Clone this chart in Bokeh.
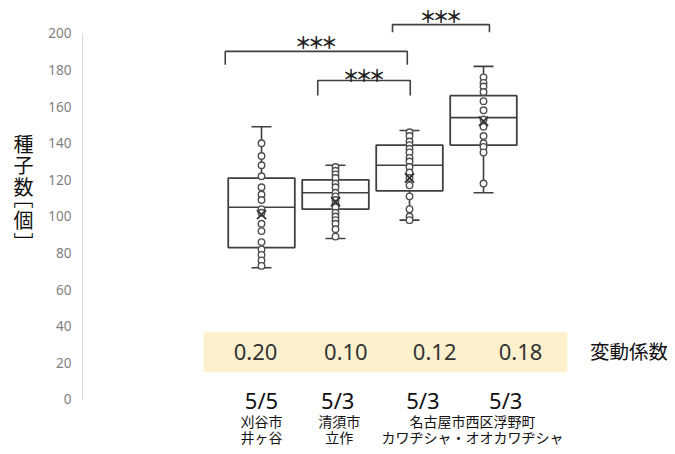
from bokeh.plotting import figure
from bokeh.layouts import row
from bokeh.models import Range1d, FixedTicker, ColumnDataSource
from bokeh.core.properties import value
from bokeh.embed import file_html
from bokeh.resources import INLINE

# ---------------- data ----------------
dates = ["5/5", "5/3", "5/3", "5/3"]
cv = [0.20, 0.10, 0.12, 0.18]
cv_label = "変動係数"
y_title = "種子数[個]"
loc_line1 = ["刈谷市", "清須市", "名古屋市西区浮野町"]
loc_line2 = ["井ヶ谷", "立作", "カワヂシャ・オオカワヂシャ"]
y_ticks = [0, 20, 40, 60, 80, 100, 120, 140, 160, 180, 200]

group = [1, 2, 3, 4]
w_low = [72, 88, 98, 113]
q1 = [83, 104, 114, 139]
median = [105, 113, 128, 154]
q3 = [121, 120, 139, 166]
w_high = [149, 128, 147, 182]
mean = [101, 108, 121, 152]

pts1 = [140, 133, 128, 122, 116, 112, 109, 104, 102, 96, 92, 86, 82, 79, 76, 73]
pts2 = [127, 125, 123, 121, 118, 116, 113, 111, 109, 107, 105, 102, 100, 98, 96, 93, 89]
pts3 = [146, 144, 141, 139, 137, 135, 132, 130, 127, 124, 121, 117, 111, 104, 100, 98]
pts4 = [176, 173, 171, 168, 163, 158, 153, 149, 144, 140, 138, 135, 118]
points = [pts1, pts2, pts3, pts4]

signif = "＊"        # drawn three times per comparison ("***")
n_stars = 3
# ---------------- layout ----------------
H = 446
TW = 44          # width of the narrow title panel
MW = 623         # width of the main chart
BOX_W = 0.9
CAP_W = 0.27
STAR_PITCH = 0.176
INK = "#404040"
JP = "Noto Sans CJK JP"
NUM = "Noto Sans"

y_rng = Range1d(-25.68, 218.0)

# significance brackets: (x_left, x_right, line_y, drop_y, star_center_y)
brackets = [
    (0.51, 2.97, 190.2, 182.9, 195.6),
    (1.76, 3.01, 174.3, 166.1, 177.6),
    (2.77, 4.08, 204.8, 200.7, 209.6),
]
cv_x = [0.92, 2.14, 3.34, 4.50]
date_x = [1.0, 2.03, 3.18, 4.30]
loc_x = [1.0, 2.05, 3.85]

# ---------- title panel (stacked vertical text) ----------
t = figure(width=TW, height=H, output_backend="svg", toolbar_location=None,
           x_range=Range1d(0, TW), y_range=y_rng,
           x_axis_location=None, y_axis_location=None,
           min_border_left=0, min_border_right=0, min_border_top=0,
           min_border_bottom=0)
t.grid.visible = False
t.outline_line_color = None
vert_forms = {"[": "\uFE47", "]": "\uFE48"}
title_chars = [vert_forms.get(c, c) for c in y_title]
title_y = [139.9, 128.4, 116.4, 110.4, 98.6, 85.8]
t.text(x=[23] * len(title_chars), y=title_y, text=title_chars,
       text_font=value(JP), text_font_size="20px", text_color="#111111",
       text_align="center", text_baseline="middle")

# ---------- main chart ----------
p = figure(width=MW, height=H, output_backend="svg", toolbar_location=None,
           x_range=Range1d(-1.419, 6.486), y_range=y_rng,
           x_axis_location=None, min_border_left=38, min_border_right=0,
           min_border_top=0, min_border_bottom=0)
p.grid.visible = False
p.outline_line_color = None

ax = p.yaxis[0]
ax.ticker = FixedTicker(ticks=y_ticks)
ax.bounds = (0, 200)
ax.axis_line_color = "#d9d9d9"
ax.axis_line_width = 1
ax.major_tick_line_color = None
ax.minor_tick_line_color = None
ax.major_tick_out = 0
ax.major_tick_in = 0
ax.major_label_standoff = 11
ax.major_label_text_font = NUM
ax.major_label_text_font_size = "13.5px"
ax.major_label_text_color = "#7f7f7f"

# CV band
p.quad(left=0.216, right=5.131, bottom=14.9, top=36.8, fill_color="#fdf1cd",
       line_color=None)
p.text(x=cv_x, y=[26.2] * 4, text=[f"{v:.2f}" for v in cv],
       text_font=value(NUM), text_font_size="22px", text_color="#333333",
       text_align="center", text_baseline="middle")
p.text(x=[5.44], y=[26.6], text=[cv_label], text_font=value(JP),
       text_font_size="19.5px", text_color="#111111", text_align="left",
       text_baseline="middle")

# boxes
src = ColumnDataSource(dict(x=group, lo=w_low, q1=q1, med=median, q3=q3,
                            hi=w_high, mean=mean,
                            xl=[g - BOX_W / 2 for g in group],
                            xr=[g + BOX_W / 2 for g in group],
                            cl=[g - CAP_W / 2 for g in group],
                            cr=[g + CAP_W / 2 for g in group]))
p.segment(x0="x", y0="lo", x1="x", y1="q1", source=src, line_color=INK, line_width=1.6)
p.segment(x0="x", y0="q3", x1="x", y1="hi", source=src, line_color=INK, line_width=1.6)
p.segment(x0="cl", y0="lo", x1="cr", y1="lo", source=src, line_color=INK, line_width=1.6)
p.segment(x0="cl", y0="hi", x1="cr", y1="hi", source=src, line_color=INK, line_width=1.6)
p.quad(left="xl", right="xr", bottom="q1", top="q3", source=src,
       fill_color="white", line_color=INK, line_width=1.8)
p.segment(x0="xl", y0="med", x1="xr", y1="med", source=src, line_color=INK, line_width=1.6)

for g, pts in zip(group, points):
    p.scatter(x=[g] * len(pts), y=pts, marker="circle", size=6.5,
              fill_color="white", line_color="#505050", line_width=1.4)

p.scatter(x="x", y="mean", source=src, marker="x", size=13, line_color="#333333",
          line_width=1.8)

# brackets
for (xl, xr, ly, dy, ty) in brackets:
    p.line(x=[xl, xl, xr, xr], y=[dy, ly, ly, dy], line_color=INK, line_width=1.6)
    xc = (xl + xr) / 2
    sx = [xc + (k - (n_stars - 1) / 2) * STAR_PITCH for k in range(n_stars)]
    p.text(x=sx, y=[ty] * n_stars, text=[signif] * n_stars, text_font=value(JP),
           text_font_size="17px", text_font_style="bold", text_color="#222222",
           text_align="center", text_baseline="middle")

# dates
p.text(x=date_x, y=[-0.5] * 4, text=dates, text_font=value(NUM),
       text_font_size="22px", text_color="#111111", text_align="center",
       text_baseline="middle")
# locations
p.text(x=loc_x, y=[-11.6] * 3, text=loc_line1, text_font=value(JP),
       text_font_size="14px", text_color="#111111", text_align="center",
       text_baseline="middle")
p.text(x=loc_x, y=[-20.3] * 3, text=loc_line2, text_font=value(JP),
       text_font_size="14px", text_color="#111111", text_align="center",
       text_baseline="middle")

layout = row(t, p)
open("out.html", "w").write(file_html(layout, INLINE))
